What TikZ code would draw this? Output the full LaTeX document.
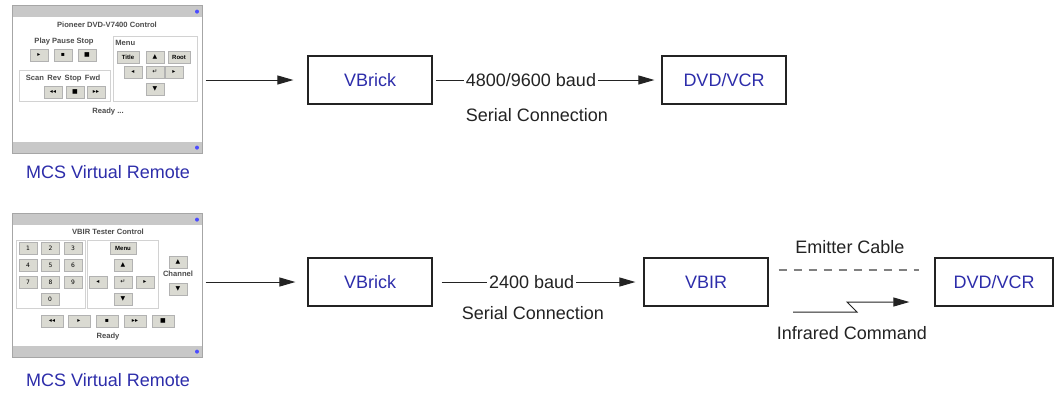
\documentclass[tikz,border=0pt]{standalone}
\usepackage{fontspec}
\setmainfont{Liberation Sans}
\newfontfamily\symboles{DejaVu Sans}
\usetikzlibrary{arrows.meta,positioning}

\definecolor{bleulien}{RGB}{45,45,170}
\definecolor{gristexte}{RGB}{35,35,35}
\definecolor{grisbarre}{RGB}{200,200,200}
\definecolor{grisbouton}{RGB}{218,218,210}

\tikzset{boite/.style = {draw=gristexte, line width=0.6pt, minimum width=62pt, minimum height=24pt,
                         inner sep=0pt, text=bleulien, font=\fontsize{9}{11}\selectfont},
         etiquette/.style = {text=gristexte, font=\fontsize{9}{11}\selectfont, inner sep=1pt},
         fleche/.style = {-{Triangle[length=8pt,width=4.5pt]}, line width=0.5pt, gristexte},
         panneau/.style = {draw=gray!70, line width=0.5pt, fill=white, minimum width=95pt,
                           minimum height=74pt, inner sep=0pt,
                           path picture={
                             \fill[grisbarre] (path picture bounding box.north west)
                                rectangle ([yshift=-6pt]path picture bounding box.north east);
                             \fill[grisbarre] ([yshift=5.5pt]path picture bounding box.south west)
                                rectangle (path picture bounding box.south east);
                             \fill[blue!70] ([xshift=-2.5pt,yshift=-3.3pt]path picture bounding box.north east) circle (1pt);
                             \fill[blue!70] ([xshift=-2.5pt,yshift=2.7pt]path picture bounding box.south east) circle (1pt);
                           }},
         cadre/.style = {draw=gray!35, line width=0.3pt},
         bouton/.style = {draw=gray!60, fill=grisbouton, line width=0.3pt, minimum width=#1,
                          minimum height=6pt, inner sep=0pt, font=\symboles\fontsize{3}{3}\selectfont},
         bouton/.default=9pt,
         mini/.style = {text=gray!60!black, font=\bfseries\fontsize{3.8}{4.5}\selectfont, inner sep=0pt},
        }

\begin{document}
\begin{tikzpicture}[x=0.5pt, y=-0.5pt]
  \useasboundingbox (0,0) rectangle (1055,393);

  \node[panneau] (telA) at (107,79) {};
  \node[mini] at (107,25) {Pioneer DVD-V7400 Control};
  \node[mini] at (64,42) {Play Pause Stop};
  \node[bouton] at (39,55) {▸};
  \node[bouton] at (63,55) {▪};
  \node[bouton] at (87,55) {■};
  \draw[cadre] (19,70) rectangle (110,101);
  \node[mini] at (63,79) {Scan\, Rev\, Stop\, Fwd};
  \node[bouton] at (53,92) {◂◂};
  \node[bouton] at (75,92) {■};
  \node[bouton] at (96,92) {▸▸};
  \draw[cadre] (113,36) rectangle (197,101);
  \node[mini, anchor=west] at (115,43) {Menu};
  \node[bouton=11pt] at (128,57) {\rmfamily\bfseries Title};
  \node[bouton] at (155,57) {▲};
  \node[bouton=11pt] at (179,57) {\rmfamily\bfseries Root};
  \node[bouton] at (133,72) {◂};
  \node[bouton] at (155,72) {↵};
  \node[bouton] at (174,72) {▸};
  \node[bouton] at (155,89) {▼};
  \node[mini] at (108,112) {Ready ...};
  \node[etiquette, text=bleulien] (legA) at (108,172) {MCS Virtual Remote};

  \node[panneau, minimum height=72pt] (telB) at (107,285) {};
  \node[mini] at (108,232) {VBIR Tester Control};
  \draw[cadre] (16,240) rectangle (85,308);
  \draw[cadre] (87,240) rectangle (158,308);
  \foreach \touche [count=\i from 0] in {1,...,9}
    \node[bouton] at ({28+22.5*mod(\i,3)},{248+17*div(\i,3)}) {\touche};
  \node[bouton] at (50,299) {0};
  \node[bouton=13pt] at (123,248) {\rmfamily\bfseries Menu};
  \node[bouton] at (123,265) {▲};
  \node[bouton] at (98,282) {◂};
  \node[bouton] at (123,282) {↵};
  \node[bouton] at (145,282) {▸};
  \node[bouton] at (123,299) {▼};
  \node[bouton] at (178,262) {▲};
  \node[mini] at (178,274) {Channel};
  \node[bouton] at (178,289) {▼};
  \node[bouton=11pt] at (52,321) {◂◂};
  \node[bouton=11pt] at (79,321) {▸};
  \node[bouton=11pt] at (107,321) {▪};
  \node[bouton=11pt] at (135,321) {▸▸};
  \node[bouton=11pt] at (163,321) {■};
  \node[mini] at (108,337) {Ready};
  \node[etiquette, text=bleulien] (legB) at (108,380) {MCS Virtual Remote};

  \node[boite] (vbrickA) at (370,80) {VBrick};
  \node[boite] (dvdA) at (724,80) {DVD/VCR};
  \node[boite] (vbrickB) at (370,282) {VBrick};
  \node[boite] (vbir) at (706,282) {VBIR};
  \node[boite, minimum width=59pt] (dvdB) at (994,282) {DVD/VCR};

  \draw[fleche, shorten <=1.5pt, shorten >=7pt] (vbrickA.west -| telA.east) -- (vbrickA.west);
  \draw[fleche, shorten <=1.5pt, shorten >=3.5pt] (vbrickA) --
        node[etiquette, fill=white, pos=0.43] (bauda) {4800/9600 baud} (dvdA);
  \node[etiquette] (serieA) at (537,115) {Serial Connection};

  \draw[fleche, shorten <=1.5pt, shorten >=6pt] (vbrickB.west -| telB.east) -- (vbrickB.west);
  \draw[fleche, shorten <=4.5pt, shorten >=4pt] (vbrickB) --
        node[etiquette, fill=white, pos=0.47] (baudb) {2400 baud} (vbir);
  \node[etiquette] (serieB) at (533,313) {Serial Connection};

  \draw[gray, line width=0.6pt, dash pattern=on 4pt off 3.5pt]
        ([xshift=5pt,yshift=6pt]vbir.east) -- ([xshift=-7.5pt,yshift=6pt]dvdB.west);
  \node[etiquette] (cable) at (850,247) {Emitter Cable};
  \coordinate (depart) at (793,312);
  \draw[fleche] (depart) -- ++(64,0) -- ++(-10,-10) -- ([xshift=-12.5pt,yshift=-10pt]dvdB.west);
  \node[etiquette] (infra) at (852,333) {Infrared Command};
\end{tikzpicture}
\end{document}
